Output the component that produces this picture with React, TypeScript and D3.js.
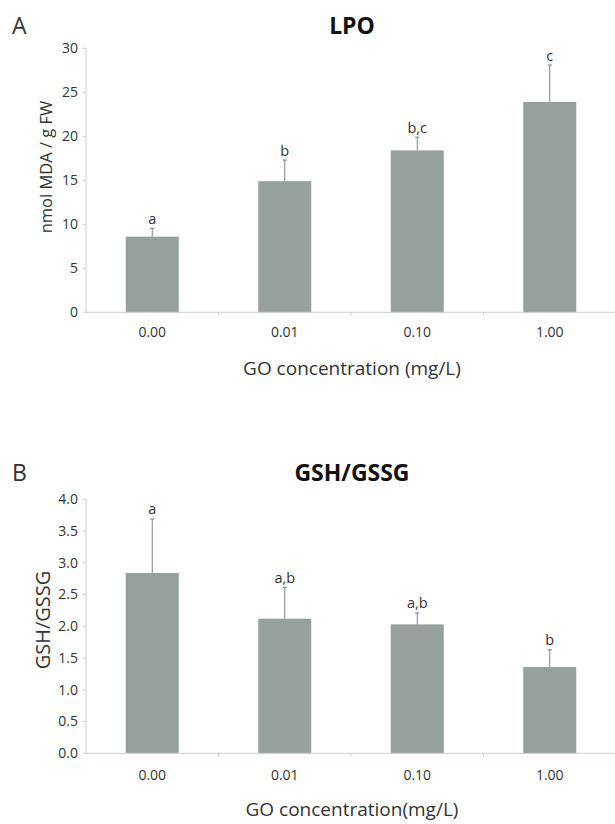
import React from "react";
import * as d3 from "d3";

const categories = ["0.00", "0.01", "0.10", "1.00"];
const lpoValues = [8.6, 14.9, 18.4, 23.9];
const lpoErrors = [0.95, 2.4, 1.5, 4.2];
const lpoLetters = ["a", "b", "b,c", "c"];
const lpoTicks = [0, 5, 10, 15, 20, 25, 30];

const gshValues = [2.84, 2.12, 2.03, 1.36];
const gshErrors = [0.85, 0.49, 0.18, 0.27];
const gshLetters = ["a", "a,b", "a,b", "b"];
const gshTicks = [0, 0.5, 1, 1.5, 2, 2.5, 3, 3.5, 4];

const FONT = "'Open Sans', 'Noto Sans', sans-serif";
const BAR = "#95a09f";
const AXIS = "#c8cfce";
const ERR = "#7c8888";
const TEXT = "#333";

type PanelProps = {
  letter: string;
  title: string;
  values: number[];
  errors: number[];
  letters: string[];
  ticks: number[];
  yMax: number;
  tickFmt: (v: number) => string;
  top: number;
  bottom: number;
  titleY: number;
  yLabel: string;
  yLabelSize: number;
  yLabelX: number;
  yLabelY: number;
  xTickY: number;
  xTitle: string;
  xTitleY: number;
  letterGap: number;
};

function Panel(p: PanelProps) {
  const x = d3
    .scaleBand<string>()
    .domain(categories)
    .range([86, 616])
    .paddingInner(0.6)
    .paddingOuter(0.3);
  const y = d3.scaleLinear().domain([0, p.yMax]).range([p.bottom, p.top]);
  const step = x.step();
  const boundaries = categories.slice(1).map((c) => (x(c) as number) - step * 0.3);
  return (
    <g>
      <text x={12} y={p.titleY} fontFamily={FONT} fontSize={23} fill={TEXT}>
        {p.letter}
      </text>
      <text
        x={352}
        y={p.titleY}
        textAnchor="middle"
        fontFamily={FONT}
        fontSize={23}
        fontWeight="bold"
        fill="#111"
      >
        {p.title}
      </text>
      {p.values.map((v, i) => {
        const c = categories[i];
        const bx = x(c) as number;
        const cx = bx + x.bandwidth() / 2;
        const et = y(v + p.errors[i]);
        return (
          <g key={c}>
            <rect x={bx} y={y(v)} width={x.bandwidth()} height={p.bottom - y(v)} fill={BAR} />
            <line x1={cx} x2={cx} y1={y(v)} y2={et} stroke={ERR} strokeWidth={1} />
            <line x1={cx - 2} x2={cx + 2} y1={et} y2={et} stroke={ERR} strokeWidth={1.2} />
            <text
              x={cx}
              y={et - p.letterGap}
              textAnchor="middle"
              fontFamily={FONT}
              fontSize={14.5}
              fill={TEXT}
            >
              {p.letters[i]}
            </text>
          </g>
        );
      })}
      <line x1={86} x2={86} y1={p.top} y2={p.bottom} stroke={AXIS} strokeWidth={1} />
      <line x1={86} x2={615} y1={p.bottom} y2={p.bottom} stroke={AXIS} strokeWidth={1} />
      {p.ticks.map((t) => (
        <g key={t}>
          <line x1={83} x2={86} y1={y(t)} y2={y(t)} stroke={AXIS} strokeWidth={1} />
          <text
            x={78}
            y={y(t)}
            dy="0.35em"
            textAnchor="end"
            fontFamily={FONT}
            fontSize={14}
            fill={TEXT}
          >
            {p.tickFmt(t)}
          </text>
        </g>
      ))}
      {boundaries.map((b, i) => (
        <line key={i} x1={b} x2={b} y1={p.bottom} y2={p.bottom + 3} stroke={AXIS} strokeWidth={1} />
      ))}
      {categories.map((c) => (
        <text
          key={c}
          x={(x(c) as number) + x.bandwidth() / 2}
          y={p.xTickY}
          textAnchor="middle"
          fontFamily={FONT}
          fontSize={14}
          fill={TEXT}
        >
          {c}
        </text>
      ))}
      <text
        x={352}
        y={p.xTitleY}
        textAnchor="middle"
        fontFamily={FONT}
        fontSize={19}
        fill={TEXT}
      >
        {p.xTitle}
      </text>
      <text
        transform={`translate(${p.yLabelX},${p.yLabelY}) rotate(-90)`}
        textAnchor="middle"
        fontFamily={FONT}
        fontSize={p.yLabelSize}
        fill={TEXT}
      >
        {p.yLabel}
      </text>
    </g>
  );
}

export default function App() {
  return (
    <svg
      width={615}
      height={824}
      style={{ position: "absolute", left: 0, top: 0, background: "#fff" }}
    >
      <rect width={615} height={824} fill="#fff" />
      <Panel
        letter="A"
        title="LPO"
        values={lpoValues}
        errors={lpoErrors}
        letters={lpoLetters}
        ticks={lpoTicks}
        yMax={30}
        tickFmt={(v) => d3.format("d")(v)}
        top={48.3}
        bottom={312.3}
        titleY={34}
        yLabel="nmol MDA / g FW"
        yLabelSize={16.5}
        yLabelX={52}
        yLabelY={167}
        xTickY={337}
        xTitle="GO concentration (mg/L)"
        xTitleY={375}
        letterGap={4}
      />
      <Panel
        letter="B"
        title="GSH/GSSG"
        values={gshValues}
        errors={gshErrors}
        letters={gshLetters}
        ticks={gshTicks}
        yMax={4}
        tickFmt={(v) => d3.format(".1f")(v)}
        top={499.3}
        bottom={753.3}
        titleY={481}
        yLabel="GSH/GSSG"
        yLabelSize={20}
        yLabelX={50}
        yLabelY={620}
        xTickY={780}
        xTitle="GO concentration(mg/L)"
        xTitleY={816}
        letterGap={5}
      />
    </svg>
  );
}
